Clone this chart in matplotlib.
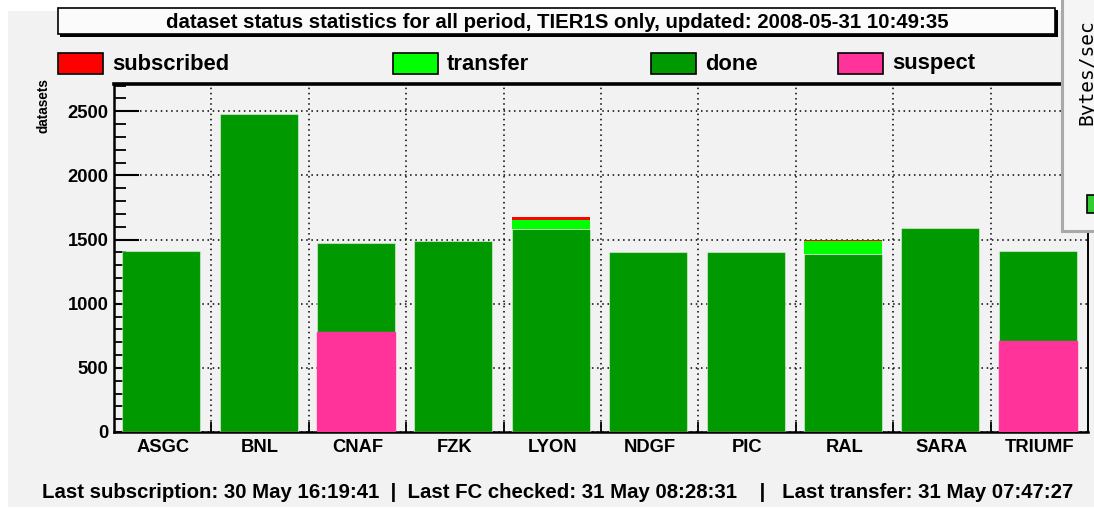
import matplotlib
matplotlib.use("Agg")
import matplotlib.pyplot as plt
from matplotlib.patches import Rectangle
from matplotlib.ticker import MultipleLocator

plt.rcParams['font.family'] = ['Liberation Sans', 'DejaVu Sans']
plt.rcParams['font.weight'] = 'bold'

# data
sites = ["ASGC", "BNL", "CNAF", "FZK", "LYON", "NDGF", "PIC", "RAL", "SARA", "TRIUMF"]
suspect = [0, 0, 780, 0, 0, 0, 0, 0, 0, 712]
done = [1410, 2479, 690, 1490, 1579, 1401, 1401, 1385, 1589, 702]
transfer = [0, 0, 0, 0, 71, 0, 0, 105, 0, 0]
subscribed = [0, 0, 0, 0, 28, 0, 0, 5, 0, 0]

title = "dataset status statistics for all period, TIER1S only, updated: 2008-05-31 10:49:35"
footer = ("Last subscription: 30 May 16:19:41  |  Last FC checked: 31 May 08:28:31    |   "
          "Last transfer: 31 May 07:47:27")

c_sub = "#ff0000"
c_tra = "#00ff00"
c_done = "#009900"
c_sus = "#ff3399"
bg = "#f2f2f2"

W, H = 1094, 509
fig = plt.figure(figsize=(W / 100, H / 100), dpi=100, facecolor="white")


def fx(x):
    return x / W


def fy(y):
    return 1 - y / H


def rect_px(x0, y0, x1, y1, **kw):
    r = Rectangle((fx(x0), fy(y1)), fx(x1) - fx(x0), fy(y0) - fy(y1),
                  transform=fig.transFigure, **kw)
    fig.add_artist(r)
    return r


# grey canvas
rect_px(8, 11, W + 5, 507, facecolor=bg, edgecolor="none", zorder=0)

# title box with shadow
rect_px(60, 10, 1058, 37, facecolor="black", edgecolor="none", zorder=1)
rect_px(58, 8, 1055, 34, facecolor="#fbfbfb", edgecolor="black", lw=1.2, zorder=2)
fig.text(fx(557), fy(22), title, ha="center", va="center", fontsize=14.7,
         fontweight="bold", zorder=3)

# legend row
legend_items = [("subscribed", c_sub, 58), ("transfer", c_tra, 393),
                ("done", c_done, 651), ("suspect", c_sus, 838)]
for name, col, x0 in legend_items:
    rect_px(x0, 53, x0 + 45, 74, facecolor=col, edgecolor="black", lw=1.2, zorder=2)
    fig.text(fx(x0 + 54), fy(64), name, ha="left", va="center", fontsize=15.8,
             fontweight="bold")

# axes
ax = fig.add_axes([fx(114), fy(432), fx(1088) - fx(114), fy(84) - fy(432)])
ax.set_facecolor(bg)
ax.set_xlim(0, len(sites))
ax.set_ylim(0, 2713)

x = [i + 0.085 for i in range(len(sites))]
bottom_done = suspect
bottom_tra = [a + b for a, b in zip(suspect, done)]
bottom_sub = [a + b for a, b in zip(bottom_tra, transfer)]

halo = (1, 1, 1, 0.45)
ax.bar(x, done, width=0.8, bottom=bottom_done, align="edge", color=c_done,
       edgecolor=halo, lw=0.8, zorder=3)
ax.bar(x, transfer, width=0.8, bottom=bottom_tra, align="edge", color=c_tra,
       edgecolor="none", zorder=3)
ax.bar(x, subscribed, width=0.8, bottom=bottom_sub, align="edge", color=c_sub,
       edgecolor="none", zorder=3)
ax.bar(x, suspect, width=0.8, bottom=0, align="edge", color=c_sus,
       edgecolor=c_sus, lw=1.0, zorder=3.2)

# grid
ax.set_xticks(range(1, len(sites)))
ax.set_xticks([i + 0.5 for i in range(len(sites))], minor=True)
ax.set_xticklabels([])
ax.set_xticklabels(sites, minor=True)
ax.yaxis.set_major_locator(MultipleLocator(500))
ax.yaxis.set_minor_locator(MultipleLocator(100))
ax.grid(True, which="major", color="black", lw=1.1, ls=(0, (1, 2.4)), zorder=1)
ax.set_axisbelow(True)

ax.tick_params(axis="x", which="major", direction="in", length=7, width=1.3,
               labelbottom=False)
ax.tick_params(axis="x", which="minor", length=0, pad=5, labelsize=13.2)
ax.tick_params(axis="y", which="major", direction="in", length=18, width=1.5,
               pad=4, labelsize=13.2)
ax.tick_params(axis="y", which="minor", direction="in", length=8.5, width=1.3)
for lab in ax.get_xticklabels(minor=True) + ax.get_yticklabels():
    lab.set_fontweight("bold")

ax.spines["top"].set_linewidth(2.6)
ax.spines["left"].set_linewidth(1.8)
ax.spines["bottom"].set_linewidth(1.8)
ax.spines["right"].set_linewidth(1.4)

fig.text(fx(44), fy(106), "datasets", rotation=90, ha="center", va="center",
         fontsize=9.8, fontweight="bold")

fig.text(fx(558), fy(493), footer, ha="center", va="center", fontsize=14.7,
         fontweight="bold")

# piece of the neighbouring panel overlapping at the top right
rect_px(1062, -5, W + 10, 231, facecolor="#f5f5f5", edgecolor="#a9a9a9", lw=2.2, zorder=5)
fig.text(fx(1087), fy(72), "Bytes/sec", rotation=90, ha="center", va="center",
         fontsize=14, fontweight="normal", family="DejaVu Sans Mono", zorder=6)
rect_px(1087, 195, W + 10, 213, facecolor="#33cc33", edgecolor="black", lw=1.2, zorder=6)

fig.savefig("out.png", dpi=100, facecolor="white")
